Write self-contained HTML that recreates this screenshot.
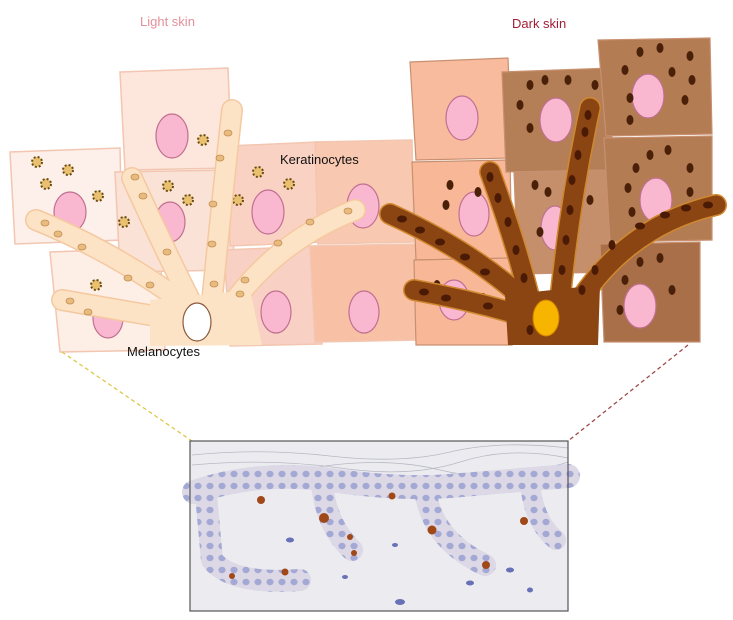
<!DOCTYPE html>
<html><head><meta charset="utf-8"><style>
html,body{margin:0;padding:0;background:#fff;width:733px;height:620px;overflow:hidden}
svg{display:block}
text{font-family:"Liberation Sans",Arial,sans-serif}
</style></head><body>
<svg width="733" height="620" viewBox="0 0 733 620" xmlns="http://www.w3.org/2000/svg">
<defs>
<pattern id="dots" width="12" height="12" patternUnits="userSpaceOnUse">
<rect width="12" height="12" fill="#dcd8e6"/>
<ellipse cx="6" cy="6" rx="3.6" ry="3.2" fill="#a4a8d4"/>
</pattern>
</defs>
<text x="140" y="26" font-size="13" fill="#e3909a">Light skin</text>
<text x="512" y="28" font-size="13" fill="#a21e36">Dark skin</text>

<!-- light keratinocytes -->
<g stroke="#f2c6b0" stroke-width="1.5">
<path d="M10,152 L120,148 L122,240 L15,244 Z" fill="#fdf0ea"/>
<path d="M50,252 L160,248 L165,350 L60,352 Z" fill="#fdeee6"/>
<path d="M120,72 L228,68 L232,168 L125,170 Z" fill="#fde6dc"/>
<path d="M115,172 L232,170 L234,270 L120,272 Z" fill="#fbe2d6"/>
<path d="M228,146 L318,142 L322,242 L230,246 Z" fill="#fad2c4"/>
<path d="M224,250 L318,246 L322,344 L230,346 Z" fill="#f9d0c4"/>
<path d="M315,142 L412,140 L414,242 L318,244 Z" fill="#f9c8b0"/>
<path d="M310,246 L418,244 L420,340 L315,342 Z" fill="#f8c0a5"/>
</g>
<g fill="#f9b8d0" stroke="#c07090" stroke-width="1.2">
<ellipse cx="70" cy="212" rx="16" ry="20"/>
<ellipse cx="108" cy="318" rx="15" ry="20"/>
<ellipse cx="172" cy="136" rx="16" ry="22"/>
<ellipse cx="170" cy="222" rx="15" ry="20"/>
<ellipse cx="268" cy="212" rx="16" ry="22"/>
<ellipse cx="276" cy="312" rx="15" ry="21"/>
<ellipse cx="363" cy="206" rx="16" ry="22"/>
<ellipse cx="364" cy="312" rx="15" ry="21"/>
</g>
<g fill="#e8c070" stroke="#6a4a10" stroke-width="2" stroke-dasharray="2 2">
<circle cx="37" cy="162" r="5"/><circle cx="68" cy="170" r="5"/><circle cx="46" cy="184" r="5"/><circle cx="98" cy="196" r="5"/>
<circle cx="96" cy="285" r="5"/><circle cx="203" cy="140" r="5"/><circle cx="168" cy="186" r="5"/><circle cx="188" cy="200" r="5"/>
<circle cx="124" cy="222" r="5"/><circle cx="258" cy="172" r="5"/><circle cx="289" cy="184" r="5"/><circle cx="238" cy="200" r="5"/>
</g>
<!-- light melanocyte -->
<g stroke-linecap="round" stroke-linejoin="round" fill="none">
<g stroke="#f4c9a0" stroke-width="22">
<path d="M36,220 Q110,250 180,300"/><path d="M62,300 Q130,312 180,320"/>
<path d="M132,178 Q160,240 190,300"/><path d="M232,110 Q222,200 212,300"/>
<path d="M355,210 Q280,240 235,300"/>
</g>
<g stroke="#fde3c6" stroke-width="19">
<path d="M36,220 Q110,250 180,300"/><path d="M62,300 Q130,312 180,320"/>
<path d="M132,178 Q160,240 190,300"/><path d="M232,110 Q222,200 212,300"/>
<path d="M355,210 Q280,240 235,300"/>
</g>
</g>
<path d="M150,300 L250,290 L262,345 L150,346 Z" fill="#fde3c6"/>
<ellipse cx="197" cy="322" rx="14" ry="19" fill="#fff" stroke="#8a5a3a" stroke-width="1.2"/>
<g fill="#e8bc80" stroke="#c49050" stroke-width="0.8">
<ellipse cx="45" cy="223" rx="4" ry="3"/><ellipse cx="58" cy="234" rx="4" ry="3"/><ellipse cx="82" cy="247" rx="4" ry="3"/>
<ellipse cx="128" cy="278" rx="4" ry="3"/><ellipse cx="150" cy="285" rx="4" ry="3"/><ellipse cx="70" cy="301" rx="4" ry="3"/>
<ellipse cx="88" cy="312" rx="4" ry="3"/><ellipse cx="135" cy="177" rx="4" ry="3"/><ellipse cx="143" cy="196" rx="4" ry="3"/>
<ellipse cx="167" cy="252" rx="4" ry="3"/><ellipse cx="228" cy="133" rx="4" ry="3"/><ellipse cx="220" cy="158" rx="4" ry="3"/>
<ellipse cx="213" cy="204" rx="4" ry="3"/><ellipse cx="212" cy="244" rx="4" ry="3"/><ellipse cx="214" cy="284" rx="4" ry="3"/>
<ellipse cx="348" cy="211" rx="4" ry="3"/><ellipse cx="310" cy="222" rx="4" ry="3"/><ellipse cx="278" cy="243" rx="4" ry="3"/>
<ellipse cx="245" cy="280" rx="4" ry="3"/><ellipse cx="240" cy="294" rx="4" ry="3"/>
</g>
<text x="280" y="164" font-size="13" fill="#111">Keratinocytes</text>
<text x="127" y="356" font-size="13" fill="#111">Melanocytes</text>

<!-- dark side keratinocytes -->
<g stroke="#c89070" stroke-width="1.2">
<path d="M410,62 L508,58 L512,158 L416,160 Z" fill="#f9bb9d"/>
<path d="M412,162 L510,160 L512,258 L416,260 Z" fill="#f8b898"/>
<path d="M414,260 L512,258 L512,345 L416,345 Z" fill="#f8b898"/>
<path d="M502,72 L612,68 L612,170 L506,172 Z" fill="#b47f56"/>
<path d="M514,172 L612,170 L612,272 L518,274 Z" fill="#c48f6a"/>
<path d="M598,40 L710,38 L712,134 L606,136 Z" fill="#b47c52"/>
<path d="M604,138 L712,136 L712,240 L610,242 Z" fill="#b47c52"/>
<path d="M600,244 L700,242 L700,342 L604,342 Z" fill="#a86f48"/>
</g>
<g fill="#f9b8d0" stroke="#c07090" stroke-width="1.2">
<ellipse cx="462" cy="118" rx="16" ry="22"/><ellipse cx="474" cy="214" rx="15" ry="22"/>
<ellipse cx="454" cy="300" rx="15" ry="20"/><ellipse cx="556" cy="120" rx="16" ry="22"/>
<ellipse cx="555" cy="228" rx="14" ry="22"/><ellipse cx="648" cy="96" rx="16" ry="22"/>
<ellipse cx="656" cy="200" rx="16" ry="22"/><ellipse cx="640" cy="306" rx="16" ry="22"/>
</g>
<g fill="#4a2008">
<ellipse cx="530" cy="85" rx="3.5" ry="5"/><ellipse cx="545" cy="80" rx="3.5" ry="5"/><ellipse cx="568" cy="80" rx="3.5" ry="5"/><ellipse cx="595" cy="85" rx="3.5" ry="5"/><ellipse cx="520" cy="105" rx="3.5" ry="5"/><ellipse cx="530" cy="128" rx="3.5" ry="5"/>
<ellipse cx="640" cy="52" rx="3.5" ry="5"/><ellipse cx="660" cy="48" rx="3.5" ry="5"/><ellipse cx="690" cy="56" rx="3.5" ry="5"/><ellipse cx="625" cy="70" rx="3.5" ry="5"/><ellipse cx="672" cy="72" rx="3.5" ry="5"/><ellipse cx="692" cy="80" rx="3.5" ry="5"/><ellipse cx="630" cy="98" rx="3.5" ry="5"/><ellipse cx="685" cy="100" rx="3.5" ry="5"/><ellipse cx="630" cy="120" rx="3.5" ry="5"/>
<ellipse cx="650" cy="155" rx="3.5" ry="5"/><ellipse cx="668" cy="150" rx="3.5" ry="5"/><ellipse cx="690" cy="168" rx="3.5" ry="5"/><ellipse cx="636" cy="168" rx="3.5" ry="5"/><ellipse cx="628" cy="188" rx="3.5" ry="5"/><ellipse cx="690" cy="192" rx="3.5" ry="5"/><ellipse cx="632" cy="212" rx="3.5" ry="5"/>
<ellipse cx="450" cy="185" rx="3.5" ry="5"/><ellipse cx="478" cy="192" rx="3.5" ry="5"/><ellipse cx="446" cy="205" rx="3.5" ry="5"/><ellipse cx="437" cy="285" rx="3.5" ry="5"/><ellipse cx="483" cy="298" rx="3.5" ry="5"/>
<ellipse cx="535" cy="185" rx="3.5" ry="5"/><ellipse cx="548" cy="192" rx="3.5" ry="5"/><ellipse cx="540" cy="232" rx="3.5" ry="5"/><ellipse cx="590" cy="200" rx="3.5" ry="5"/>
<ellipse cx="640" cy="262" rx="3.5" ry="5"/><ellipse cx="660" cy="258" rx="3.5" ry="5"/><ellipse cx="625" cy="280" rx="3.5" ry="5"/><ellipse cx="672" cy="290" rx="3.5" ry="5"/><ellipse cx="620" cy="310" rx="3.5" ry="5"/>
</g>
<!-- dark melanocyte -->
<g stroke-linecap="round" stroke-linejoin="round" fill="none">
<g stroke="#d08830" stroke-width="22">
<path d="M390,214 Q470,250 525,300"/><path d="M414,290 Q470,300 520,315"/>
<path d="M490,172 Q515,240 530,300"/><path d="M590,108 Q570,200 560,300"/>
<path d="M716,205 Q630,225 580,300"/>
</g>
<g stroke="#8b4513" stroke-width="19">
<path d="M390,214 Q470,250 525,300"/><path d="M414,290 Q470,300 520,315"/>
<path d="M490,172 Q515,240 530,300"/><path d="M590,108 Q570,200 560,300"/>
<path d="M716,205 Q630,225 580,300"/>
</g>
</g>
<path d="M505,295 L600,285 L598,345 L508,345 Z" fill="#8b4513"/>
<ellipse cx="546" cy="318" rx="13" ry="18" fill="#f7b500" stroke="#d08000" stroke-width="1"/>
<g fill="#4a1a05">
<ellipse cx="402" cy="219" rx="5" ry="3.5"/><ellipse cx="420" cy="230" rx="5" ry="3.5"/><ellipse cx="440" cy="242" rx="5" ry="3.5"/><ellipse cx="465" cy="257" rx="5" ry="3.5"/><ellipse cx="485" cy="272" rx="5" ry="3.5"/>
<ellipse cx="424" cy="292" rx="5" ry="3.5"/><ellipse cx="446" cy="298" rx="5" ry="3.5"/><ellipse cx="488" cy="306" rx="5" ry="3.5"/>
<ellipse cx="490" cy="177" rx="3.5" ry="5"/><ellipse cx="498" cy="198" rx="3.5" ry="5"/><ellipse cx="508" cy="222" rx="3.5" ry="5"/><ellipse cx="516" cy="250" rx="3.5" ry="5"/><ellipse cx="524" cy="278" rx="3.5" ry="5"/>
<ellipse cx="588" cy="115" rx="3.5" ry="5"/><ellipse cx="585" cy="132" rx="3.5" ry="5"/><ellipse cx="578" cy="155" rx="3.5" ry="5"/><ellipse cx="572" cy="180" rx="3.5" ry="5"/><ellipse cx="570" cy="210" rx="3.5" ry="5"/><ellipse cx="566" cy="240" rx="3.5" ry="5"/><ellipse cx="562" cy="270" rx="3.5" ry="5"/>
<ellipse cx="708" cy="205" rx="5" ry="3.5"/><ellipse cx="686" cy="208" rx="5" ry="3.5"/><ellipse cx="665" cy="215" rx="5" ry="3.5"/><ellipse cx="640" cy="226" rx="5" ry="3.5"/><ellipse cx="612" cy="245" rx="3.5" ry="5"/><ellipse cx="595" cy="270" rx="3.5" ry="5"/><ellipse cx="582" cy="290" rx="3.5" ry="5"/>
<ellipse cx="530" cy="330" rx="3.5" ry="5"/>
</g>

<line x1="62" y1="352" x2="192" y2="441" stroke="#dcc84a" stroke-width="1.3" stroke-dasharray="4 3"/>
<line x1="688" y1="345" x2="568" y2="441" stroke="#a04848" stroke-width="1.3" stroke-dasharray="4 3"/>

<!-- histology -->
<rect x="190" y="441" width="378" height="170" fill="#ececf0"/>
<g fill="none" stroke="#b8b8c4" stroke-width="0.8">
<path d="M192,455 Q260,448 330,456 T450,452 T568,448"/>
<path d="M192,465 Q270,458 340,468 T460,462 T568,458"/>
<path d="M300,470 Q380,455 440,470 T568,462"/>
<path d="M200,478 Q260,468 320,476"/>
</g>
<g fill="none" stroke="url(#dots)" stroke-linecap="round" stroke-linejoin="round">
<path d="M194,492 Q260,470 330,480 T450,486 T568,476" stroke-width="24"/>
<path d="M206,495 L212,560 Q232,585 300,580" stroke-width="22"/>
<path d="M322,484 Q326,525 352,550" stroke-width="22"/>
<path d="M425,490 Q432,540 485,565" stroke-width="22"/>
<path d="M530,484 Q534,522 556,540" stroke-width="20"/>
</g>
<g fill="#a04818">
<circle cx="261" cy="500" r="4"/><circle cx="324" cy="518" r="5"/><circle cx="392" cy="496" r="3.5"/><circle cx="432" cy="530" r="4.5"/>
<circle cx="486" cy="565" r="4"/><circle cx="524" cy="521" r="4"/><circle cx="285" cy="572" r="3.5"/><circle cx="354" cy="553" r="3"/><circle cx="350" cy="537" r="3"/><circle cx="232" cy="576" r="3"/>
</g>
<g fill="#6870b8">
<ellipse cx="290" cy="540" rx="4" ry="2.5"/><ellipse cx="395" cy="545" rx="3" ry="2"/><ellipse cx="470" cy="583" rx="4" ry="2.5"/><ellipse cx="510" cy="570" rx="4" ry="2.5"/><ellipse cx="345" cy="577" rx="3" ry="2"/><ellipse cx="400" cy="602" rx="5" ry="3"/><ellipse cx="530" cy="590" rx="3" ry="2.5"/>
</g>
<rect x="190" y="441" width="378" height="170" fill="none" stroke="#555" stroke-width="1.2"/>
</svg>
</body></html>
